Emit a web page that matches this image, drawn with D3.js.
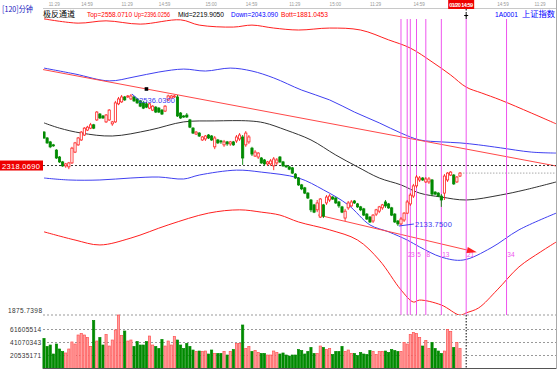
<!DOCTYPE html>
<html><head><meta charset="utf-8">
<script src="https://cdn.jsdelivr.net/npm/d3@7"></script>
<style>html,body{margin:0;padding:0;background:#fff;overflow:hidden}svg{display:block}</style>
</head><body><svg id="c" width="560" height="369"></svg>
<script>
// ---------- data ----------
const opens=[2420,2402,2390,2381,2365,2344,2329,2317,2314,2326,2359,2381,2396,2411,2426,2432,2442,2457,2475,2469,2451,2457,2445,2451,2506,2512,2527,2527,2521,2527,2521,2515,2509,2506,2493,2487,2496,2493,2487,2484,2518,2524,2527,2527,2478,2469,2472,2457,2432,2414,2417,2396,2399,2411,2408,2375,2396,2393,2381,2390,2384,2390,2393,2399,2405,2381,2390,2371,2347,2344,2341,2335,2323,2323,2317,2326,2344,2329,2317,2314,2311,2292,2280,2259,2250,2234,2213,2198,2183,2161,2198,2204,2213,2222,2219,2207,2192,2158,2189,2195,2210,2201,2192,2186,2170,2161,2149,2170,2179,2189,2207,2201,2189,2170,2149,2140,2152,2173,2201,2225,2256,2274,2280,2268,2268,2274,2237,2234,2225,2234,2274,2289,2289,2268,2286];
const closes=[2402,2387,2375,2378,2341,2329,2317,2323,2326,2371,2387,2402,2420,2432,2435,2442,2432,2481,2463,2463,2472,2487,2451,2509,2521,2527,2518,2530,2530,2515,2509,2499,2493,2496,2506,2499,2481,2481,2475,2499,2530,2530,2530,2469,2463,2466,2466,2435,2417,2420,2408,2405,2408,2402,2396,2402,2387,2390,2390,2384,2390,2381,2405,2411,2341,2417,2405,2353,2359,2356,2326,2323,2329,2332,2338,2335,2329,2317,2314,2307,2295,2280,2259,2247,2234,2219,2183,2176,2204,2216,2164,2222,2225,2216,2204,2195,2176,2179,2204,2207,2204,2192,2183,2167,2155,2146,2167,2183,2192,2198,2195,2189,2167,2146,2140,2155,2173,2207,2228,2256,2283,2280,2274,2277,2277,2231,2231,2225,2213,2286,2295,2298,2262,2283,2295];
const highs=[2423,2405,2393,2384,2368,2347,2332,2326,2329,2375,2390,2405,2423,2435,2439,2448,2445,2484,2478,2472,2475,2490,2454,2515,2527,2533,2530,2533,2536.03,2530,2524,2518,2515,2512,2509,2502,2499,2496,2490,2502,2534,2533,2533,2533,2481,2472,2478,2460,2435,2423,2420,2408,2411,2414,2411,2408,2399,2396,2396,2393,2393,2393,2411,2417,2411,2423,2411,2375,2365,2359,2344,2338,2332,2338,2344,2341,2347,2332,2320,2317,2314,2295,2283,2262,2253,2237,2216,2201,2213,2219,2201,2228,2231,2225,2222,2210,2195,2186,2210,2213,2213,2204,2195,2189,2173,2164,2170,2186,2195,2201,2213,2204,2192,2173,2152,2161,2176,2213,2234,2262,2289,2286,2283,2283,2283,2277,2240,2237,2231,2292,2298,2301,2292,2286,2298];
const lows=[2399,2384,2371,2375,2338,2326,2314,2311,2307,2323,2356,2378,2393,2408,2423,2429,2429,2454,2460,2460,2448,2454,2439,2448,2502,2509,2515,2524,2518,2512,2506,2496,2490,2493,2490,2484,2478,2478,2472,2481,2515,2521,2524,2466,2460,2463,2463,2432,2414,2411,2405,2393,2393,2399,2393,2368,2384,2384,2375,2378,2378,2378,2387,2393,2320,2375,2384,2347,2344,2338,2323,2317,2317,2317,2304,2320,2326,2314,2311,2304,2292,2277,2256,2243,2231,2216,2176,2173,2176,2158,2158,2198,2207,2213,2201,2189,2173,2149,2183,2192,2201,2189,2179,2164,2152,2143,2143,2164,2173,2183,2189,2186,2164,2143,2133.75,2137,2146,2170,2195,2219,2250,2268,2271,2265,2262,2225,2228,2222,2192,2213,2268,2286,2259,2265,2283];
// volume in millions
const volumesM=[47.4,34.8,37.1,22.9,38.7,30.8,26.9,24.5,30.8,41.9,38.7,52.9,55.3,52.9,49.0,34.8,75.8,43.4,49.0,37.1,53.7,35.5,45.0,60.8,84.5,52.1,59.2,43.4,45.0,34.8,42.6,37.1,37.1,42.6,51.3,37.1,34.8,31.6,45.8,35.5,43.4,37.1,50.5,45.0,37.1,31.6,39.5,34.8,29.2,26.9,27.6,26.9,27.6,22.9,29.2,23.7,23.7,23.7,26.9,21.3,26.9,30.0,39.5,39.5,68.7,31.6,34.8,26.9,28.4,25.3,23.7,23.7,21.3,21.3,27.6,25.3,22.9,24.5,21.3,19.7,21.3,21.3,30.0,28.4,22.9,26.9,33.2,23.7,23.7,35.5,33.2,30.0,31.6,22.1,26.9,26.9,34.8,26.9,29.2,23.7,23.7,20.5,25.3,22.9,22.1,28.4,26.9,22.1,26.9,26.9,27.6,25.3,30.0,28.4,26.9,26.9,41.1,38.7,53.7,56.9,55.3,49.0,35.5,44.2,31.6,41.1,31.6,27.6,23.7,27.6,61.6,58.4,33.2,41.1,31.6];
const volumeTicks=[20535171,41070343,61605514];
const paneBottomLabel="1875.7398";
// channel bands: [bar index, price]
const bandTop=[[0,2765],[11,2752],[20,2759],[31,2749],[44,2762],[50,2746],[61,2740],[67,2746],[74,2737],[82,2731],[92,2737],[102,2731],[111,2701],[118,2676],[125,2634],[131,2594],[136,2557],[141,2539],[147,2518],[157,2478],[165,2445]];
const bandUp=[[0,2615],[10,2597],[21,2576],[29,2588],[37,2603],[45,2612],[52,2606],[60,2615],[67,2606],[74,2585],[83,2548],[92,2518],[100,2481],[108,2448],[115,2417],[121,2396],[128,2390],[134,2387],[140,2381],[147,2372],[157,2359],[165,2356]];
const bandMid=[[0,2448],[5,2432],[12,2417],[22,2408],[34,2426],[45,2451],[55,2454],[66,2454],[71,2448],[78,2426],[86,2396],[94,2350],[101,2314],[108,2280],[115,2259],[121,2234],[128,2222],[136,2213],[147,2228],[155,2244],[165,2268]];
const bandDown=[[0,2280],[8,2274],[18,2274],[28,2280],[37,2283],[45,2277],[50,2289],[62,2304],[70,2298],[82,2280],[90,2244],[98,2198],[105,2137],[111,2116],[117,2091],[121,2070],[128,2039],[135,2030],[144,2067],[153,2122],[165,2173]];
const bandBott=[[0,2116],[10,2091],[18,2076],[28,2097],[40,2137],[53,2173],[63,2183],[70,2176],[76,2167],[82,2146],[92,2122],[101,2091],[108,2030],[115,1939],[119,1902],[121,1908],[128,1893],[134,1862],[136,1869],[140,1884],[146,1939],[153,2009],[160,2055],[165,2085]];
const trendUpper=[[33,2551.3],[165,2316.6]];
const trendLower=[[88.3,2167.3],[136.3,2060.6]];
const fibBase=115, fibOffsets=[0,2,3,5,8,13,21,34];
const timeLabels=["11:29","14:59","11:29","14:59","15:00","14:59","11:29","15:00","11:29","14:59","14:59","11:29"];
const timeLabelIdx=[1.5,12,25,37,52,65,79,92,105,119,146,158];
const cursorIdx=136, cursorPrice=2318.069, cursorTime="01/20 14:59";
const highLabel="2536.0300", lowLabel="2133.7500";
const titleItems=[["Top=2558.0710","#ff0000",87,45],["Up=2396.0256","#ff0000",134,36],["Mid=2219.9050","#000000",178,46],["Down=2043.090","#0000ff",231,47],["Bott=1881.0453","#ff0000",281,47]];

// ---------- drawing ----------
const svg=d3.select('#c');
const FONT="'Liberation Sans',Arial,sans-serif", CJK="'Noto Sans CJK SC',sans-serif";
const x=d3.scaleLinear().domain([0,165]).range([44,556.2]);
const y=d3.scaleLinear().domain([2133.75,2536.03]).range([226,94]);
const yv=d3.scaleLinear().domain([0,61605514]).range([368.5,329.5]);
const L=43,R=556.5,PT=9,PB=315;
const n=closes.length;
const RED="#ff2020",GREEN="#008a00",BLUE="#4040f0",MAG="#ee55ee";

svg.append('rect').attr('width',560).attr('height',369).attr('fill','#fff');
const defs=svg.append('defs');
defs.append('clipPath').attr('id','mp').append('rect').attr('x',L).attr('y',PT).attr('width',R-L).attr('height',PB-PT);

// header
svg.append('line').attr('x1',L).attr('x2',R).attr('y1',8.5).attr('y2',8.5).attr('stroke','#c8c8c8');
svg.append('g').selectAll('text').data(timeLabels).join('text')
 .attr('x',(d,i)=>x(timeLabelIdx[i])).attr('y',5.5).attr('font-size',4.6).attr('font-family',FONT).attr('fill','#999').text(d=>d);
svg.append('rect').attr('x',x(cursorIdx)-18).attr('y',0).attr('width',26).attr('height',9).attr('fill','#ee0000');
svg.append('text').attr('x',x(cursorIdx)-17).attr('y',6.5).attr('font-size',5.5).attr('font-weight','bold').attr('font-family',FONT).attr('fill','#fff').attr('textLength',24).text(cursorTime);

svg.append('text').attr('x',2).attr('y',11.5).attr('font-size',8).attr('font-family',CJK).attr('fill','#2020c0').attr('textLength',31).attr('lengthAdjust','spacingAndGlyphs').text('[120]分钟');
svg.append('text').attr('x',43).attr('y',16.8).attr('font-size',8).attr('font-family',CJK).attr('fill','#000').attr('textLength',32).attr('lengthAdjust','spacingAndGlyphs').text('极反通道');
titleItems.forEach(t=>{
 svg.append('text').attr('x',t[2]).attr('y',16.8).attr('font-size',6.8).attr('font-family',FONT).attr('fill',t[1]).attr('textLength',t[3]).attr('lengthAdjust','spacingAndGlyphs').text(t[0]);
});
svg.append('text').attr('x',495).attr('y',16.8).attr('font-size',7.5).attr('font-family',FONT).attr('fill','#0000ff').attr('textLength',23).attr('lengthAdjust','spacingAndGlyphs').text('1A0001');
svg.append('text').attr('x',522).attr('y',17).attr('font-size',8).attr('font-family',CJK).attr('fill','#0000ff').attr('textLength',33).attr('lengthAdjust','spacingAndGlyphs').text('上证指数');

const g=svg.append('g').attr('clip-path','url(#mp)');
const line=d3.line().x(d=>x(d[0])).y(d=>y(d[1])).curve(d3.curveCatmullRom.alpha(0.5));
[[bandTop,RED],[bandUp,BLUE],[bandMid,'#333'],[bandDown,BLUE],[bandBott,RED]].forEach(b=>{
 g.append('path').attr('d',line(b[0])).attr('fill','none').attr('stroke',b[1]).attr('stroke-width',1);
});
// trend lines
const tu=trendUpper, su=(tu[1][1]-tu[0][1])/(tu[1][0]-tu[0][0]);
const pu=i=>tu[0][1]+su*(i-tu[0][0]);
g.append('line').attr('x1',x(-0.4)).attr('y1',y(pu(-0.4))).attr('x2',x(165)).attr('y2',y(pu(165))).attr('stroke','#ff4848').attr('stroke-width',1);
g.append('rect').attr('x',x(tu[0][0])-1.8).attr('y',y(tu[0][1])-1.8).attr('width',3.6).attr('height',3.6).attr('fill','#000');
const tl=trendLower;
const ax1=x(tl[0][0]),ay1=y(tl[0][1]),ax2=x(tl[1][0]),ay2=y(tl[1][1]);
g.append('line').attr('x1',ax1).attr('y1',ay1).attr('x2',ax2).attr('y2',ay2).attr('stroke','#ff4848').attr('stroke-width',1);
const ang=Math.atan2(ay2-ay1,ax2-ax1);
const tip=[ax2+10*Math.cos(ang),ay2+10*Math.sin(ang)];
const b1=[ax2-3*Math.sin(ang),ay2+3*Math.cos(ang)],b2=[ax2+3*Math.sin(ang),ay2-3*Math.cos(ang)];
// fib lines
fibOffsets.forEach(o=>{
 g.append('line').attr('x1',x(fibBase+o)).attr('x2',x(fibBase+o)).attr('y1',19).attr('y2',PB).attr('stroke',MAG).attr('stroke-width',1);
});
fibOffsets.slice(1).forEach(o=>{
 g.append('text').attr('x',x(fibBase+o)+0.8).attr('y',257).attr('font-size',6.5).attr('font-family',FONT).attr('fill',MAG).text(o);
});
g.append('path').attr('d',`M${tip}L${b1}L${b2}Z`).attr('fill','#ff2020');
// cursor lines
g.append('line').attr('x1',L).attr('x2',R).attr('y1',y(cursorPrice)).attr('y2',y(cursorPrice)).attr('stroke','#333').attr('stroke-dasharray','2,2');
g.append('line').attr('x1',x(n-1)).attr('x2',R).attr('y1',y(closes[n-1])).attr('y2',y(closes[n-1])).attr('stroke','#aaa').attr('stroke-dasharray','1.5,1.5');
svg.append('line').attr('x1',x(cursorIdx)).attr('x2',x(cursorIdx)).attr('y1',9).attr('y2',19).attr('stroke','#000').attr('stroke-dasharray','1.5,1.5');
svg.append('path').attr('d',`M${x(cursorIdx)-2},15.5H${x(cursorIdx)+2}M${x(cursorIdx)},13.5V18`).attr('stroke','#000');

// candles
const cg=g.append('g');
d3.range(n).forEach(i=>{
 const up=closes[i]>=opens[i], cx=x(i);
 const col=up?RED:GREEN;
 const top=y(Math.max(opens[i],closes[i])), bot=y(Math.min(opens[i],closes[i]));
 cg.append('line').attr('x1',cx).attr('x2',cx).attr('y1',y(highs[i])).attr('y2',y(lows[i])).attr('stroke',col).attr('stroke-width',0.9);
 cg.append('rect').attr('x',cx-1.1).attr('y',top).attr('width',2.2).attr('height',Math.max(0.8,bot-top))
   .attr('fill',up?'#fff':GREEN).attr('stroke',col).attr('stroke-width',0.8);
});
// extreme labels
const hi=d3.maxIndex(highs), lo=d3.minIndex(lows);
svg.append('line').attr('x1',x(hi)+1).attr('y1',y(highs[hi])).attr('x2',x(hi)+8).attr('y2',y(highs[hi])+6).attr('stroke',BLUE);
svg.append('text').attr('x',x(hi)+8).attr('y',y(highs[hi])+9).attr('font-size',7.5).attr('font-family',FONT).attr('fill',BLUE).attr('textLength',36).text(highLabel);
svg.append('line').attr('x1',x(lo)+1).attr('y1',y(lows[lo])).attr('x2',x(lo)+16).attr('y2',y(lows[lo])-2).attr('stroke',BLUE);
svg.append('text').attr('x',x(lo)+17).attr('y',y(lows[lo])+1).attr('font-size',7.5).attr('font-family',FONT).attr('fill',BLUE).attr('textLength',37).text(lowLabel);

// cursor price box
svg.append('rect').attr('x',0).attr('y',y(cursorPrice)-5).attr('width',43).attr('height',10).attr('fill','#ee0000');
svg.append('text').attr('x',2).attr('y',y(cursorPrice)+3).attr('font-size',7.5).attr('font-family',FONT).attr('fill','#fff').attr('textLength',38).text(cursorPrice.toFixed(4));

// volume pane
svg.append('line').attr('x1',L).attr('x2',R).attr('y1',PB).attr('y2',PB).attr('stroke','#999').attr('stroke-dasharray','2,2');
svg.append('text').attr('x',8).attr('y',313).attr('font-size',6.5).attr('font-family',FONT).attr('fill','#333').attr('textLength',34).text(paneBottomLabel);
volumeTicks.forEach(v=>{
 svg.append('line').attr('x1',L).attr('x2',R).attr('y1',yv(v)).attr('y2',yv(v)).attr('stroke','#999').attr('stroke-dasharray','2,2');
 svg.append('text').attr('x',10).attr('y',yv(v)+2.5).attr('font-size',6.5).attr('font-family',FONT).attr('fill','#333').attr('textLength',31).text(v);
});
const vg=svg.append('g');
volumesM.forEach((v,i)=>{
 const up=closes[i]>=opens[i];
 const t=yv(v*1e6);
 vg.append('rect').attr('x',x(i)-1.1).attr('y',t).attr('width',2.2).attr('height',yv(0)-t)
  .attr('fill',up?'#ffa0a0':GREEN).attr('stroke',up?'#ff5050':GREEN).attr('stroke-width',0.7);
});
svg.append('line').attr('x1',x(cursorIdx)).attr('x2',x(cursorIdx)).attr('y1',PB).attr('y2',368).attr('stroke','#000').attr('stroke-dasharray','1.5,1.5');
svg.append('line').attr('x1',L).attr('x2',R).attr('y1',368.5).attr('y2',368.5).attr('stroke','#555');
svg.append('line').attr('x1',R).attr('x2',R).attr('y1',0).attr('y2',369).attr('stroke','#aaa');
</script></body></html>
